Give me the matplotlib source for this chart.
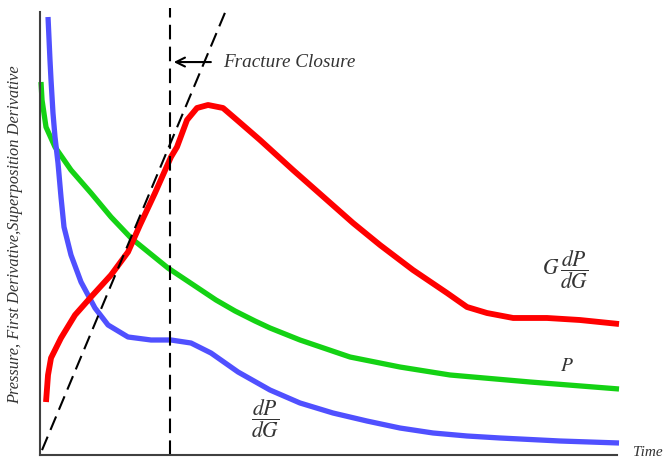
import matplotlib
matplotlib.use("Agg")
import matplotlib.pyplot as plt

plt.rcParams["mathtext.fontset"] = "stix"

# Schematic G-function analysis curves (arbitrary units: time 0-100, value 0-100)
t_dpdg = [1.39, 1.73, 1.91, 2.25, 2.60, 3.12, 3.64, 4.16, 5.37, 7.11, 9.53, 11.79, 15.25,
          19.24, 22.70, 26.17, 29.64, 34.32, 39.86, 45.06, 50.78, 56.67, 62.39, 68.11,
          74.00, 79.72, 90.12, 100.35]
y_dpdg = [98.87, 89.16, 84.65, 77.20, 71.78, 65.91, 58.24, 51.47, 45.15, 39.05, 33.18, 29.35, 26.64,
          25.96, 25.96, 25.28, 23.02, 18.74, 14.67, 11.74, 9.48, 7.67, 6.09, 4.97,
          4.29, 3.84, 3.16, 2.71]

t_p = [0.17, 0.35, 1.04, 2.60, 5.37, 8.84, 12.31, 15.77, 22.18, 27.38, 30.50, 33.80, 37.26,
       39.86, 45.06, 53.73, 62.39, 71.06, 84.92, 100.35]
y_p = [84.20, 80.14, 74.04, 69.53, 64.33, 59.14, 53.72, 48.98, 42.21, 37.70, 34.99, 32.51, 30.25,
       28.67, 25.96, 22.12, 19.86, 18.06, 16.48, 14.90]

t_gdpdg = [1.04, 1.39, 1.91, 3.64, 6.07, 8.84, 12.31, 15.25, 17.33, 19.93, 22.70, 23.74, 25.48,
           27.21, 29.12, 31.72, 34.14, 38.13, 43.85, 49.74, 54.25, 58.93, 64.64, 70.54,
           74.00, 77.47, 82.00, 87.87, 93.59, 100.35]
y_gdpdg = [11.96, 18.06, 21.90, 26.41, 31.60, 35.67, 40.63, 45.82, 51.92, 59.14, 67.27, 69.53, 75.62,
           78.33, 79.01, 78.33, 75.62, 71.11, 64.33, 57.56, 52.37, 47.40, 41.76, 36.57,
           33.41, 32.05, 30.93, 30.93, 30.47, 29.57]

# Fracture closure time and tangent line through the origin
t_closure = 22.5
tangent_t = [0.35, 32.4]
tangent_y = [1.1, 100.9]

W, H = 668, 461
fig = plt.figure(figsize=(W / 100, H / 100), dpi=100)
ax = fig.add_axes([40 / W, (H - 455) / H, (617 - 40) / W, (455 - 12) / H])
ax.set_xlim(0, 100)
ax.set_ylim(0, 100)

for s in ("top", "right"):
    ax.spines[s].set_visible(False)
for s in ("left", "bottom"):
    ax.spines[s].set_color("#404040")
    ax.spines[s].set_linewidth(1.5)
ax.set_xticks([])
ax.set_yticks([])

lw = 3.8
style = dict(solid_capstyle="butt", solid_joinstyle="round", clip_on=False)
ax.plot(t_p, y_p, color="#14d214", lw=lw, **style)
ax.plot(t_dpdg, y_dpdg, color="#5050ff", lw=lw, **style)
ax.plot(t_gdpdg, y_gdpdg, color="#ff0000", lw=lw + 0.4, **style)

dash = (0, (7, 3.5))
ax.plot([t_closure, t_closure], [0, 101], color="black", lw=1.5, linestyle=dash, clip_on=False)
ax.plot(tangent_t, tangent_y, color="black", lw=1.5, linestyle=dash, clip_on=False)

ax.annotate("", xy=(t_closure + 0.2, 88.7), xytext=(30.1, 88.7),
            arrowprops=dict(arrowstyle="->", color="black", lw=1.5, mutation_scale=16))

txt = dict(family="Liberation Serif", style="italic", color="#333333")
ax.text(31.7, 88.7, "Fracture Closure", fontsize=13.8, va="center", ha="left", **txt)

ax.text(91.0, 41.8, r"$G\,\dfrac{dP}{dG}$", fontsize=15.5, ha="center", va="center", color="#333333")
ax.text(91.3, 20.3, r"$P$", fontsize=14, ha="center", va="center", color="#333333")
ax.text(39.0, 8.1, r"$\dfrac{dP}{dG}$", fontsize=15.5, ha="center", va="center", color="#333333")

fig.text(633 / W, (H - 452) / H, "Time", fontsize=11, ha="left", va="center", **txt)
fig.text(15 / W, (H - 235) / H, "Pressure, First Derivative,Superposition Derivative",
         fontsize=11.8, rotation=90, ha="center", va="center", **txt)

fig.savefig("out.png", dpi=100)
